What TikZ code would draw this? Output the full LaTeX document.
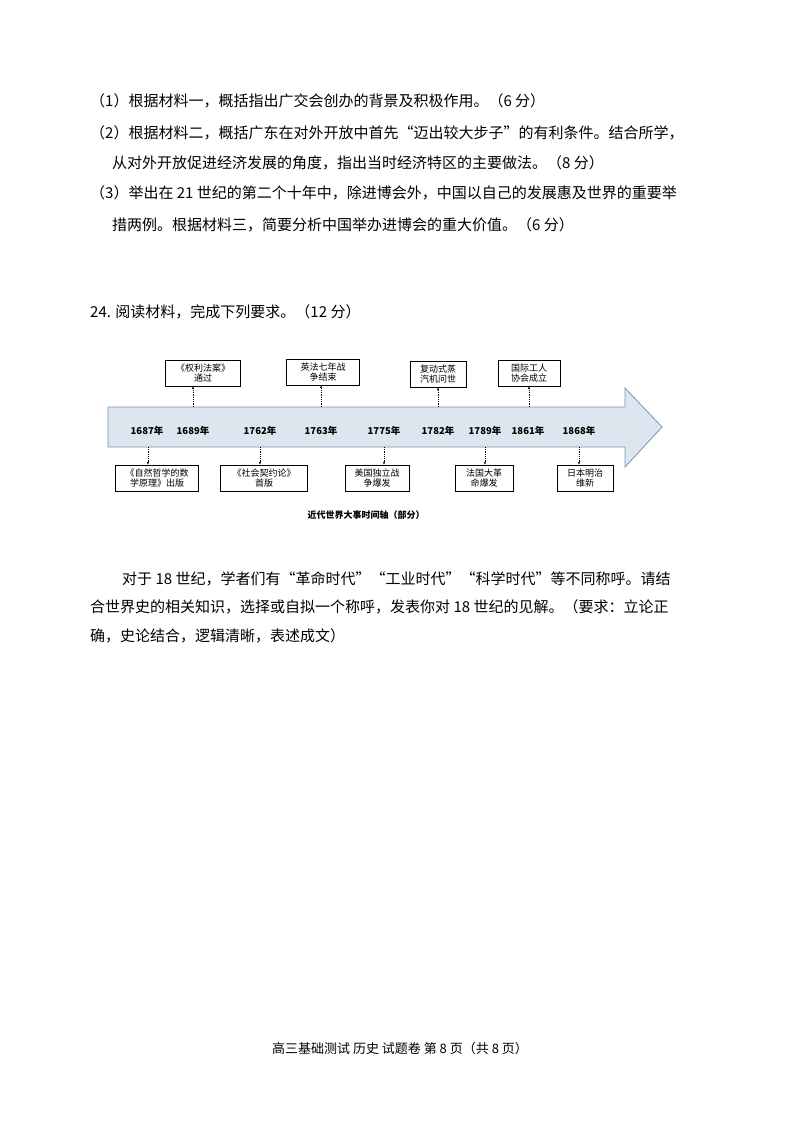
\documentclass[tikz,border=0pt]{standalone}
\usepackage{fontspec}
\usetikzlibrary{arrows.meta}
\setmainfont{Noto Sans CJK SC}
\begin{document}
\begin{tikzpicture}[x=1pt,y=-1pt,
  txt/.style={anchor=west,inner sep=0pt,font=\fontsize{15}{18}\selectfont},
  ev/.style={draw,thick,fill=white,align=center,inner sep=1pt,font=\fontsize{9}{10.5}\selectfont,minimum height=26pt},
  yr/.style={font=\fontsize{9.5}{11}\selectfont\bfseries,inner sep=0pt},
  con/.style={densely dotted,thick,-{Stealth[length=3pt]}}]
\useasboundingbox (0,0) rectangle (800,1132);
\fill[white] (0,0) rectangle (800,1132);
\node[txt] (l1) at (90,101) {（1）根据材料一，概括指出广交会创办的背景及积极作用。（6 分）};
\node[txt] (l2) at (90,133) {（2）根据材料二，概括广东在对外开放中首先“迈出较大步子”的有利条件。结合所学，};
\node[txt] (l3) at (112,163) {从对外开放促进经济发展的角度，指出当时经济特区的主要做法。（8 分）};
\node[txt] (l4) at (90,193) {（3）举出在 21 世纪的第二个十年中，除进博会外，中国以自己的发展惠及世界的重要举};
\node[txt] (l5) at (112,225) {措两例。根据材料三，简要分析中国举办进博会的重大价值。（6 分）};
\node[txt] (h24) at (90,312) {24. 阅读材料，完成下列要求。（12 分）};
\draw[draw={rgb,255:red,120;green,150;blue,185},fill={rgb,255:red,221;green,230;blue,239},thick]
  (108,407) -- (625,407) -- (625,388) -- (662,427) -- (625,467) -- (625,447) -- (108,447) -- cycle;
\foreach \n/\x/\t in {a/147/1687,b/193/1689,c/260/1762,d/321/1763,e/384/1775,f/438/1782,g/485/1789,h/528/1861,i/579/1868}
  \node[yr] (y\n) at (\x,431) {\t 年};
\node[ev,minimum width=75pt] (tb) at (203,373) {《权利法案》\\通过};
\node[ev,minimum width=73pt] (td) at (323,372) {英法七年战\\争结束};
\node[ev,minimum width=56pt] (tf) at (438,374) {复动式蒸\\汽机问世};
\node[ev,minimum width=62pt] (th) at (529,373) {国际工人\\协会成立};
\node[ev,minimum width=83pt] (ba) at (157,478) {《自然哲学的数\\学原理》出版};
\node[ev,minimum width=87pt] (bc) at (264,478) {《社会契约论》\\首版};
\node[ev,minimum width=64pt] (be) at (377,478) {美国独立战\\争爆发};
\node[ev,minimum width=58pt] (bg) at (484,478) {法国大革\\命爆发};
\node[ev,minimum width=56pt] (bi) at (585,478) {日本明治\\维新};
\foreach \x/\b in {193/tb,321/td,438/tf,529/th} \draw[con] (\x,407) -- (\x,407 |- \b.south);
\foreach \x/\b in {148/ba,260/bc,384/be,485/bg,579/bi} \draw[con] (\x,447) -- (\x,447 |- \b.north);
\node[font=\fontsize{9}{11}\selectfont\bfseries] (cap) at (366,515) {近代世界大事时间轴（部分）};
\node[txt] (p1) at (122,579) {对于 18 世纪，学者们有“革命时代”“工业时代”“科学时代”等不同称呼。请结};
\node[txt] (p2) at (90,607) {合世界史的相关知识，选择或自拟一个称呼，发表你对 18 世纪的见解。（要求：立论正};
\node[txt] (p3) at (90,636) {确，史论结合，逻辑清晰，表述成文）};
\node[font=\fontsize{13}{15}\selectfont] (ft) at (400,1049) {高三基础测试 历史 试题卷 第 8 页（共 8 页）};
\end{tikzpicture}
\end{document}
